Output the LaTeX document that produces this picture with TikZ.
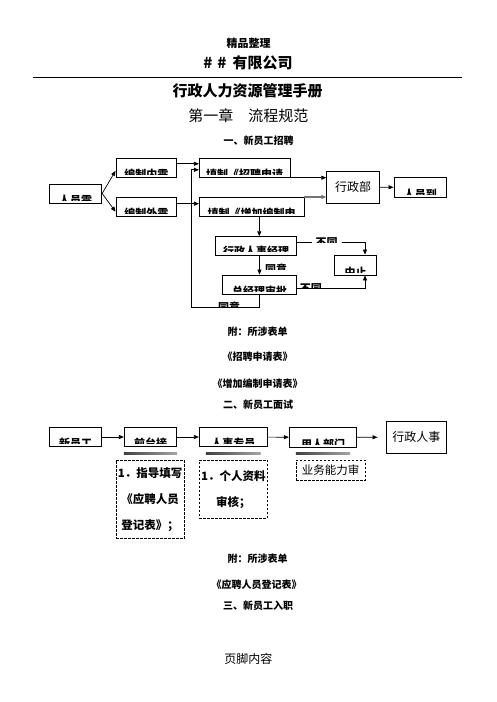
\documentclass[tikz,border=0pt]{standalone}
\usepackage{fontspec}
\setmainfont{Noto Sans CJK SC}
\usetikzlibrary{arrows.meta}

\tikzset{
  box/.style={draw, line width=0.8pt, inner sep=0pt},
  sz/.style 2 args={minimum width=#1pt, minimum height=#2pt},
  cut/.style={path picture={
      \clip ([yshift=3pt]path picture bounding box.south west)
        rectangle (path picture bounding box.north east);
      \node[draw=none, fill=none, inner sep=0pt, minimum width=0pt,
        minimum height=0pt, anchor=base, font=\bfseries\fontsize{11}{11}\selectfont]
        at ([yshift=-1pt]path picture bounding box.south) {#1};}},
  note/.style={draw, dash pattern=on 2.5pt off 1.5pt, line width=0.8pt,
    inner sep=1pt, align=center, font=\bfseries\fontsize{11.5}{26}\selectfont},
  arr/.style={line width=0.7pt, -{Triangle[length=5pt,width=4pt]}},
  bar/.style={left color=black!75, right color=black!35, draw=none},
  head/.style={font=\bfseries\fontsize{10}{12}\selectfont},
}

\begin{document}
\begin{tikzpicture}[x=1pt, y=-1pt]
    \useasboundingbox (0,0) rectangle (496,702);
    %% page header
    \node[font=\bfseries\fontsize{11}{13}\selectfont] (hdr) at (248.5,43.3) {精品整理};
    \node[font=\bfseries\fontsize{15}{17}\selectfont] (company) at (248,63.3) {\#\hspace{5pt}\#\hspace{6pt}有限公司};
    \draw[line width=0.8pt] (33.3,77.3) -- (461.7,77.3);
    \node[font=\bfseries\fontsize{15}{17}\selectfont] (title) at (247.5,91) {行政人力资源管理手册};
    \node[font=\fontsize{15}{17}\selectfont] (chapter) at (248.3,116) {第一章　流程规范};
    \node[head] (sec1) at (258.7,141) {一、新员工招聘};
    %% recruiting flow
    \node[box, cut=人员需, sz={52.5}{19}] (need) at (75.5,193.5) {};
    \node[box, cut=编制内需, sz={60.7}{19}] (inner) at (146.3,167.8) {};
    \node[box, cut=编制外需, sz={60.7}{18.7}] (outer) at (146.3,206.7) {};
    \node[box, cut=填制《招聘申请, sz={90.7}{19}] (apply) at (244.7,167.8) {};
    \node[box, cut=填制《增加编制申, sz={104.7}{18.7}] (extra) at (251.7,206.7) {};
    \node[box, cut=行政人事经理, sz={81}{18.3}] (hrmgr) at (256.2,245.8) {};
    \node[box, cut=总经理审批, sz={74.4}{19}] (gm) at (259.5,284.5) {};
    \node[box, sz={52.6}{32.3}, font=\fontsize{12}{14}\selectfont] (admin) at (353,187.2) {行政部};
    \node[box, cut=人员到, sz={52.7}{20}] (arrive) at (420.3,187.3) {};
    \node[box, cut=中止, sz={42.4}{20}] (stop) at (355.5,265) {};
    \coordinate (col) at (259.3,0);
    \coordinate (loop) at (191.7,307.3);
    \draw[arr] (need.east) -- ([yshift=-3pt]inner.west);
    \draw[arr] (need.east) -- ([yshift=-5pt]outer.west);
    \draw[arr] ([yshift=4pt]inner.east) -- ([yshift=4pt]apply.west);
    \draw[arr] ([yshift=3pt]outer.east) -- ([yshift=3pt]extra.west);
    \draw[arr] (col |- extra.south) -- (col |- hrmgr.north);
    \draw[arr] (gm.north |- hrmgr.south) -- (gm.north);
    \draw[arr] (gm.south) |- (loop) |- ([yshift=-2pt]apply.west);
    \draw[arr] (apply.south east) -- (apply.south east -| admin.west);
    \draw[arr, draw=black!55, line width=1.2pt] (extra.north east) -- (extra.north east -| admin.west);
    \draw[arr] (admin.east) -- (arrive.west);
    \draw[arr] ([yshift=3.5pt]hrmgr.east) -| ([xshift=9.5pt]stop.north);
    \draw[arr] ([yshift=-4pt]gm.east) -| ([xshift=9.5pt]stop.south);
    %% branch labels
    \node[cut=不同, sz={30}{12}, fill=white] (no1) at (326.7,239.7) {};
    \node[cut=同意, sz={24}{12}] (yes1) at (276,266.3) {};
    \node[cut=不同, sz={24}{12}] (no2) at (310.8,285.3) {};
    \node[cut=同意, sz={24}{12}] (yes2) at (229,304.7) {};
    %% forms
    \node[head] (att1) at (257.5,331.3) {附：所涉表单};
    \node[head] (form1) at (257.5,357) {《招聘申请表》};
    \node[head] (form2) at (257.5,383.3) {《增加编制申请表》};
    \node[head] (sec2) at (258,405) {二、新员工面试};
    %% interview flow
    \node[box, cut=新员工, sz={52.4}{19.4}] (newbie) at (75.5,437) {};
    \node[box, cut=前台接, sz={52.4}{19.4}] (desk) at (150.5,437) {};
    \node[box, cut=人事专员, sz={68}{19.4}] (clerk) at (233.3,437) {};
    \node[box, cut=用人部门, sz={67.4}{20}] (dept) at (323,437.3) {};
    \node[box, sz={60.7}{32.3}, font=\fontsize{12}{14}\selectfont] (hr) at (416.3,437.2) {行政人事};
    \draw[arr] (newbie) -- (desk);
    \draw[arr] (desk) -- (clerk);
    \draw[arr] (clerk) -- (dept);
    \draw[arr, shorten >=8pt] (dept) -- (hr);
    \shade[bar] ([yshift=-5.5pt]desk.south west) rectangle ([yshift=-7.5pt]desk.south east);
    \shade[bar] ([xshift=7pt,yshift=-5.5pt]clerk.south west) rectangle ([xshift=-7pt,yshift=-7.5pt]clerk.south east);
    \shade[bar] ([xshift=7pt,yshift=-5pt]dept.south west) rectangle ([xshift=-7pt,yshift=-7pt]dept.south east);
    %% notes
    \node[note, sz={68.3}{78.3}] (guide) at (150.2,499.2) {1．指导填写\\《应聘人员\\登记表》；};
    \node[note, sz={68}{58.3}] (check) at (233.3,489.2) {1．个人资料\\审核；};
    \node[note, sz={69}{20}, font=\fontsize{11.5}{14}\selectfont] (skill) at (330.5,470) {业务能力审};
    %% forms
    \node[head] (att2) at (257.5,558.3) {附：所涉表单};
    \node[head] (form3) at (256.7,585) {《应聘人员登记表》};
    \node[head] (sec3) at (258,606) {三、新员工入职};
    \node[font=\fontsize{12}{14}\selectfont] (foot) at (248.3,658.7) {页脚内容};
\end{tikzpicture}
\end{document}
